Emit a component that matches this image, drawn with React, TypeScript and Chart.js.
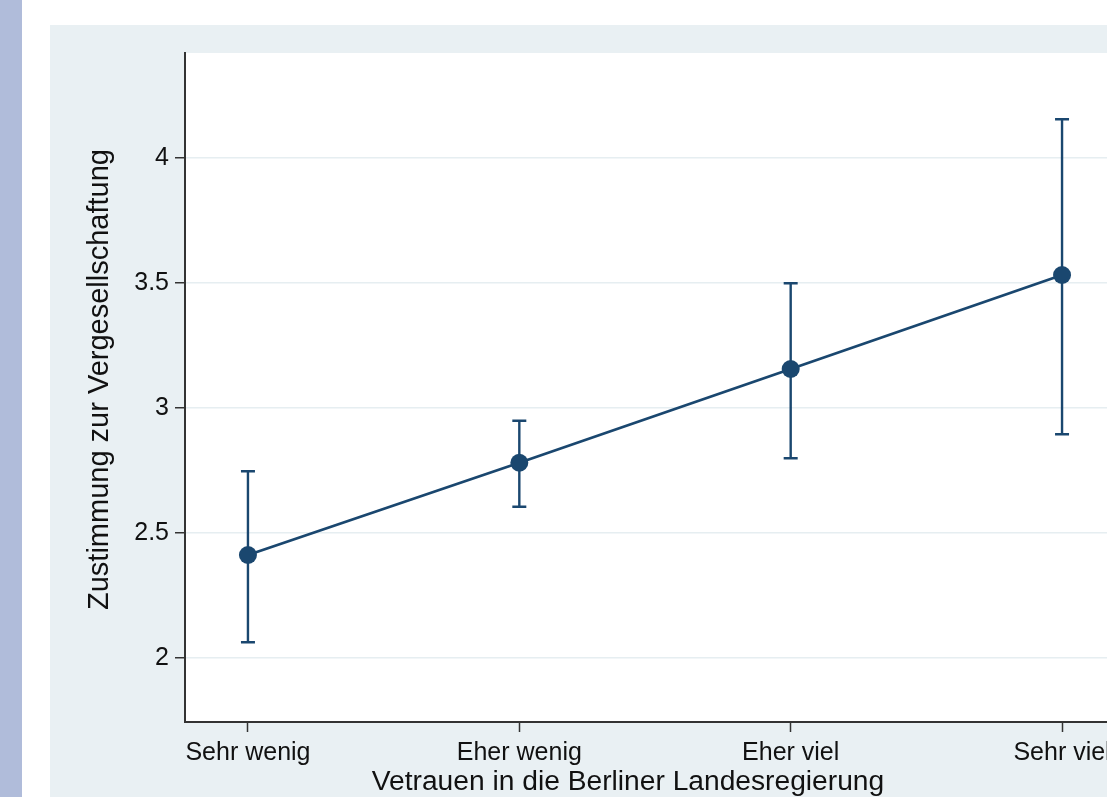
import React, { useEffect, useRef } from "react";
import { Chart, registerables } from "chart.js";

Chart.register(...registerables);

const categories = ["Sehr wenig", "Eher wenig", "Eher viel", "Sehr viel"];
const xPositions = [1, 2, 3, 4];
const means = [2.412, 2.781, 3.156, 3.532];
const ciLower = [2.063, 2.605, 2.799, 2.895];
const ciUpper = [2.747, 2.949, 3.499, 4.155];
const yTicks = [2, 2.5, 3, 3.5, 4];
const yTickLabels = ["2", "2.5", "3", "3.5", "4"];
const yTitle = "Zustimmung zur Vergesellschaftung";
const xTitle = "Vetrauen in die Berliner Landesregierung";

const FONT = '"Liberation Sans", Arial, Helvetica, sans-serif';
const NAVY = "#1a476f";
const AXIS = "#333333";
const GRID = "#e6eef1";
const PANEL = "#e9f0f3";

const plotBackground = {
  id: "plotBackground",
  beforeDraw(chart: any) {
    const { ctx, chartArea } = chart;
    ctx.save();
    ctx.fillStyle = "#ffffff";
    ctx.fillRect(chartArea.left, chartArea.top, chartArea.right - chartArea.left, chartArea.bottom - chartArea.top);
    ctx.restore();
  },
};

const errorBars = {
  id: "errorBars",
  beforeDatasetsDraw(chart: any) {
    const { ctx, scales } = chart;
    const xs = scales.x;
    const ys = scales.y;
    ctx.save();
    ctx.strokeStyle = NAVY;
    ctx.lineWidth = 2.4;
    const cap = 7;
    xPositions.forEach((xv, i) => {
      const px = xs.getPixelForValue(xv);
      const lo = ys.getPixelForValue(ciLower[i]);
      const hi = ys.getPixelForValue(ciUpper[i]);
      ctx.beginPath();
      ctx.moveTo(px, lo);
      ctx.lineTo(px, hi);
      ctx.moveTo(px - cap, lo);
      ctx.lineTo(px + cap, lo);
      ctx.moveTo(px - cap, hi);
      ctx.lineTo(px + cap, hi);
      ctx.stroke();
    });
    ctx.restore();
  },
};

const axisTitles = {
  id: "axisTitles",
  afterDraw(chart: any) {
    const { ctx, chartArea } = chart;
    ctx.save();
    ctx.fillStyle = "#111111";
    ctx.textAlign = "center";
    // y title
    ctx.save();
    ctx.font = `29px ${FONT}`;
    ctx.translate(50, (chartArea.top + chartArea.bottom) / 2 - 8);
    ctx.rotate(-Math.PI / 2);
    ctx.textBaseline = "middle";
    ctx.fillText(yTitle, 0, 0);
    ctx.restore();
    // x title
    ctx.font = `28.2px ${FONT}`;
    ctx.textBaseline = "alphabetic";
    ctx.fillText(xTitle, (chartArea.left + chartArea.right) / 2 - 27, chartArea.bottom + 68);
    ctx.restore();
  },
};

function ChartView() {
  const ref = useRef<HTMLCanvasElement | null>(null);
  useEffect(() => {
    if (!ref.current) return;
    const chart = new Chart(ref.current, {
      type: "line",
      data: {
        datasets: [
          {
            data: xPositions.map((x, i) => ({ x, y: means[i] })),
            borderColor: NAVY,
            borderWidth: 2.8,
            pointRadius: 9,
            pointBackgroundColor: NAVY,
            pointBorderWidth: 0,
            tension: 0,
          },
        ],
      },
      options: {
        animation: false,
        responsive: false,
        devicePixelRatio: 1,
        layout: { padding: { top: 28, right: 75, left: 0, bottom: 0 } },
        plugins: { legend: { display: false }, tooltip: { enabled: false } },
        scales: {
          x: {
            type: "linear",
            min: 0.768,
            max: 4.232,
            afterBuildTicks: (scale: any) => {
              scale.ticks = xPositions.map((v) => ({ value: v }));
            },
            afterFit: (scale: any) => {
              scale.height = 103;
            },
            grid: {
              drawOnChartArea: false,
              drawTicks: true,
              tickLength: 10,
              tickColor: AXIS,
              tickWidth: 1.5,
            },
            border: { display: true, color: AXIS, width: 2 },
            ticks: {
              autoSkip: false,
              maxRotation: 0,
              minRotation: 0,
              padding: 6,
              color: "#111111",
              font: { family: FONT, size: 25 },
              callback: (v: any) => {
                const idx = xPositions.indexOf(Number(v));
                return idx >= 0 ? categories[idx] : "";
              },
            },
          },
          y: {
            type: "linear",
            min: 1.744,
            max: 4.42,
            afterBuildTicks: (scale: any) => {
              scale.ticks = yTicks.map((v) => ({ value: v }));
            },
            afterFit: (scale: any) => {
              scale.width = 135;
            },
            grid: {
              drawOnChartArea: true,
              color: GRID,
              lineWidth: 1.5,
              drawTicks: true,
              tickLength: 10,
              tickColor: AXIS,
              tickWidth: 1.5,
            },
            border: { display: true, color: AXIS, width: 2 },
            ticks: {
              padding: 6,
              color: "#111111",
              font: { family: FONT, size: 25 },
              callback: (v: any) => {
                const idx = yTicks.indexOf(Number(v));
                return idx >= 0 ? yTickLabels[idx] : "";
              },
            },
          },
        },
      },
      plugins: [plotBackground, errorBars, axisTitles],
    } as any);
    return () => chart.destroy();
  }, []);
  return (
    <canvas
      ref={ref}
      width={1150}
      height={800}
      style={{ position: "absolute", left: 50, top: 25, width: 1150, height: 800, background: PANEL }}
    />
  );
}

export default function App() {
  return (
    <div
      style={{
        position: "fixed",
        left: 0,
        top: 0,
        width: 1107,
        height: 797,
        overflow: "hidden",
        background: "#ffffff",
      }}
    >
      <div style={{ position: "absolute", left: 0, top: 0, width: 22, height: 797, background: "#b0bcda" }} />
      <ChartView />
    </div>
  );
}
